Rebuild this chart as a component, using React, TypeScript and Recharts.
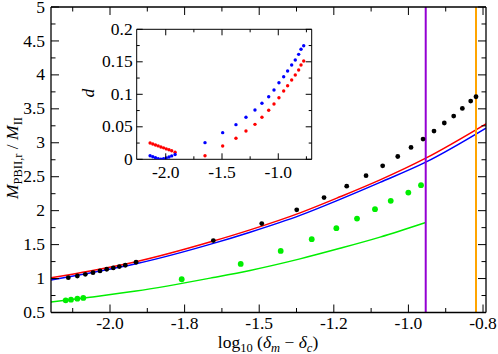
import React from 'react';
import { ComposedChart, ScatterChart, Line, Scatter, XAxis, YAxis, ReferenceLine } from 'recharts';

const FONT = 'Liberation Serif, DejaVu Serif, serif';
const FS = 17.5;

// ---------- main chart: x axis uses evenly spaced tick slots ----------
const xMajorSlots = [0, 1, 2, 3, 4, 5];
const xTickLabels = ['-2.0', '-1.8', '-1.5', '-1.2', '-1.0', '-0.8'];
const xMinorSlots = [-0.5, 0.5, 1.5, 2.5, 3.5, 4.5];
const xDomain: [number, number] = [-0.791, 5.04];

const yMajor = [0.5, 1, 1.5, 2, 2.5, 3, 3.5, 4, 4.5, 5];
const yMinor = [0.75, 1.25, 1.75, 2.25, 2.75, 3.25, 3.75, 4.25, 4.75];
const yDomain: [number, number] = [0.5, 5];

// black points
const blackX = [-0.559, -0.438, -0.331, -0.228, -0.134, -0.044, 0.044, 0.125, 0.205, 0.349, 1.385, 2.034, 2.503, 2.869, 3.173, 3.432, 3.655, 3.857, 4.035, 4.196, 4.343, 4.481, 4.607, 4.723, 4.835, 4.906];
const blackY = [1.013, 1.038, 1.063, 1.087, 1.112, 1.137, 1.156, 1.176, 1.196, 1.24, 1.559, 1.81, 2.012, 2.193, 2.361, 2.516, 2.661, 2.798, 2.931, 3.055, 3.173, 3.291, 3.394, 3.506, 3.615, 3.678];

// green points
const greenX = [-0.594, -0.523, -0.438, -0.358, 0.961, 1.752, 2.288, 2.704, 3.034, 3.311, 3.552, 3.763, 3.999, 4.169];
const greenY = [0.68, 0.689, 0.704, 0.714, 0.99, 1.215, 1.407, 1.58, 1.742, 1.883, 2.022, 2.145, 2.267, 2.376];

// curves
const curveX = [-0.791, -0.268, 0.349, 1.385, 1.877, 2.547, 3.083, 3.62, 4.232, 5.04];
const redCurveY = [1.013, 1.112, 1.248, 1.552, 1.717, 1.968, 2.204, 2.454, 2.774, 3.28];
const blueCurveY = [0.979, 1.083, 1.218, 1.518, 1.683, 1.931, 2.167, 2.417, 2.715, 3.217];
const greenCurveX = [-0.791, -0.268, 0.349, 1.385, 1.877, 2.547, 3.083, 3.62, 4.232];
const greenCurveY = [0.655, 0.725, 0.815, 1.015, 1.12, 1.29, 1.445, 1.61, 1.825];

const purpleLineX = 4.232;
const orangeLineX = 4.906;

// ---------- inset ----------
const insetXDomain: [number, number] = [-2.258, -0.703];
const insetYDomain: [number, number] = [0, 0.2];
const insetXMajor = [-2, -1.5, -1];
const insetXMinor = [-1.75, -1.25, -0.75];
const insetYMajor = [0, 0.05, 0.1, 0.15, 0.2];
const insetYMinor = [0.025, 0.075, 0.125, 0.175];

const insetX = [-2.139, -2.115, -2.091, -2.067, -2.043, -2.019, -1.995, -1.971, -1.947, -1.917,
  -1.651, -1.494, -1.376, -1.287, -1.207, -1.145, -1.085, -1.038, -0.994, -0.952, -0.917, -0.881, -0.849, -0.819, -0.798, -0.774];
const insetRedY = [0.025, 0.0236, 0.0221, 0.0206, 0.019, 0.0176, 0.016, 0.0146, 0.0131, 0.011,
  0.0055, 0.0205, 0.0323, 0.0435, 0.0538, 0.0646, 0.0754, 0.0851, 0.0948, 0.1051, 0.1132, 0.122, 0.1297, 0.1374, 0.145, 0.1512];
const insetBlueY = [0.0055, 0.004, 0.0025, 0.001, 0.0003, 0.0008, 0.002, 0.0035, 0.0052, 0.0075,
  0.0256, 0.041, 0.0533, 0.0646, 0.0758, 0.0862, 0.0963, 0.1066, 0.1178, 0.127, 0.1358, 0.145, 0.1528, 0.1615, 0.1692, 0.1748];

const zip = (xs: number[], ys: number[]) => xs.map((x, i) => ({ x, y: ys[i] }));

const blackData = zip(blackX, blackY);
const greenData = zip(greenX, greenY);
const redCurve = zip(curveX, redCurveY);
const blueCurve = zip(curveX, blueCurveY);
const greenCurve = zip(greenCurveX, greenCurveY);
const insetRed = zip(insetX, insetRedY);
const insetBlue = zip(insetX, insetBlueY);

const isIn = (arr: number[], v: number) => arr.some((a) => Math.abs(a - v) < 1e-9);

const T = (p: any) => <text fontFamily={FONT} fontSize={FS} fill="#000" style={{ fontFamily: FONT }} {...p} />;

// ---- tick factories ----
function makeBottomTick(majors: number[], label: (v: number) => string, majLen: number, minLen: number, dy: number) {
  return (props: any) => {
    const { x, y, payload } = props;
    const v = payload.value;
    const major = isIn(majors, v);
    return (
      <g>
        <line x1={x} x2={x} y1={y} y2={y - (major ? majLen : minLen)} stroke="#000" strokeWidth={1} />
        {major && <T x={x} y={y + dy} textAnchor="middle">{label(v)}</T>}
      </g>
    );
  };
}
function makeTopTick(majors: number[], majLen: number, minLen: number) {
  return (props: any) => {
    const { x, y, payload } = props;
    const major = isIn(majors, payload.value);
    return <line x1={x} x2={x} y1={y} y2={y + (major ? majLen : minLen)} stroke="#000" strokeWidth={1} />;
  };
}
function makeLeftTick(majors: number[], label: (v: number) => string, majLen: number, minLen: number, dx: number) {
  return (props: any) => {
    const { x, y, payload } = props;
    const v = payload.value;
    const major = isIn(majors, v);
    return (
      <g>
        <line x1={x} x2={x + (major ? majLen : minLen)} y1={y} y2={y} stroke="#000" strokeWidth={1} />
        {major && <T x={x - dx} y={y + 5.6} textAnchor="end">{label(v)}</T>}
      </g>
    );
  };
}
function makeRightTick(majors: number[], majLen: number, minLen: number) {
  return (props: any) => {
    const { x, y, payload } = props;
    const major = isIn(majors, payload.value);
    return <line x1={x} x2={x - (major ? majLen : minLen)} y1={y} y2={y} stroke="#000" strokeWidth={1} />;
  };
}

const mainXTicks = [...xMajorSlots, ...xMinorSlots].sort((a, b) => a - b);
const mainYTicks = [...yMajor, ...yMinor].sort((a, b) => a - b);
const insetXTicks = [...insetXMajor, ...insetXMinor].sort((a, b) => a - b);
const insetYTicks = [...insetYMajor, ...insetYMinor].sort((a, b) => a - b);

const mainXLabel = (v: number) => xTickLabels[xMajorSlots.findIndex((s) => Math.abs(s - v) < 1e-9)];
const mainYLabel = (v: number) => String(v);
const insetXLabel = (v: number) => v.toFixed(1);
const insetYLabel = (v: number) => String(v);

const axisLine = { stroke: '#000', strokeWidth: 1.3 };
const insetAxisLine = { stroke: '#000', strokeWidth: 1 };

const dot = (r: number, fill: string) => (p: any) => <circle cx={p.cx} cy={p.cy} r={r} fill={fill} />;

export default function App() {
  return (
    <div style={{ position: 'absolute', left: 0, top: 0, width: 498, height: 354, background: '#fff', fontFamily: FONT }}>
      <div style={{ position: 'absolute', left: 0, top: 0 }}>
        <ComposedChart width={498} height={354} margin={{ top: 6, right: 11, bottom: 40.5, left: 50 }}>
          <XAxis xAxisId={0} type="number" dataKey="x" domain={xDomain} allowDataOverflow ticks={mainXTicks} interval={0}
            height={1} tickSize={0} tickMargin={0} tickLine={false} axisLine={axisLine}
            tick={makeBottomTick(xMajorSlots, mainXLabel, 8, 4.5, 16)} />
          <XAxis xAxisId="top" orientation="top" type="number" dataKey="x" domain={xDomain} allowDataOverflow ticks={mainXTicks} interval={0}
            height={1} tickSize={0} tickMargin={0} tickLine={false} axisLine={axisLine}
            tick={makeTopTick(xMajorSlots, 8, 4.5)} />
          <YAxis yAxisId={0} type="number" dataKey="y" domain={yDomain} allowDataOverflow ticks={mainYTicks} interval={0}
            width={1} tickSize={0} tickMargin={0} tickLine={false} axisLine={axisLine}
            tick={makeLeftTick(yMajor, mainYLabel, 8, 4.5, 6)} />
          <YAxis yAxisId="right" orientation="right" type="number" dataKey="y" domain={yDomain} allowDataOverflow ticks={mainYTicks} interval={0}
            width={1} tickSize={0} tickMargin={0} tickLine={false} axisLine={axisLine}
            tick={makeRightTick(yMajor, 8, 4.5)} />
          <Line data={greenCurve} dataKey="y" type="monotone" stroke="#00ee00" strokeWidth={1.5} dot={false} isAnimationActive={false} />
          <Line data={blueCurve} dataKey="y" type="monotone" stroke="#0000ff" strokeWidth={1.5} dot={false} isAnimationActive={false} />
          <Line data={redCurve} dataKey="y" type="monotone" stroke="#ff0000" strokeWidth={1.5} dot={false} isAnimationActive={false} />
          <ReferenceLine x={purpleLineX} stroke="#9400d3" strokeWidth={2} />
          <ReferenceLine x={orangeLineX} stroke="#ffa500" strokeWidth={2} />
          <Scatter data={greenData} dataKey="y" shape={dot(2.9, '#00ee00')} isAnimationActive={false} />
          <Scatter data={blackData} dataKey="y" shape={dot(2.4, '#000')} isAnimationActive={false} />
        </ComposedChart>
      </div>
      <div style={{ position: 'absolute', left: 0, top: 0 }}>
        <ScatterChart width={498} height={354} margin={{ top: 28.3, right: 185.3, bottom: 193.7, left: 135.7 }}>
          <XAxis xAxisId={0} type="number" dataKey="x" domain={insetXDomain} allowDataOverflow ticks={insetXTicks} interval={0}
            height={1} tickSize={0} tickMargin={0} tickLine={false} axisLine={insetAxisLine}
            tick={makeBottomTick(insetXMajor, insetXLabel, 6, 3, 19)} />
          <XAxis xAxisId="top" orientation="top" type="number" dataKey="x" domain={insetXDomain} allowDataOverflow ticks={insetXTicks} interval={0}
            height={1} tickSize={0} tickMargin={0} tickLine={false} axisLine={insetAxisLine}
            tick={makeTopTick(insetXMajor, 6, 3)} />
          <YAxis yAxisId={0} type="number" dataKey="y" domain={insetYDomain} allowDataOverflow ticks={insetYTicks} interval={0}
            width={1} tickSize={0} tickMargin={0} tickLine={false} axisLine={insetAxisLine}
            tick={makeLeftTick(insetYMajor, insetYLabel, 6, 3, 4)} />
          <YAxis yAxisId="right" orientation="right" type="number" dataKey="y" domain={insetYDomain} allowDataOverflow ticks={insetYTicks} interval={0}
            width={1} tickSize={0} tickMargin={0} tickLine={false} axisLine={insetAxisLine}
            tick={makeRightTick(insetYMajor, 6, 3)} />
          <Scatter data={insetRed} dataKey="y" shape={dot(1.7, '#ff0000')} isAnimationActive={false} />
          <Scatter data={insetBlue} dataKey="y" shape={dot(1.7, '#0000ff')} isAnimationActive={false} />
        </ScatterChart>
      </div>
      <svg width={498} height={354} style={{ position: 'absolute', left: 0, top: 0, pointerEvents: 'none' }}>
        <T transform="translate(18,158) rotate(-90)" textAnchor="middle">
          <tspan fontStyle="italic">M</tspan>
          <tspan fontSize={12.5} dy={4}>PBII,r</tspan>
          <tspan dy={-4}>{' / '}</tspan>
          <tspan fontStyle="italic">M</tspan>
          <tspan fontSize={12.5} dy={4}>II</tspan>
        </T>
        <T x={268} y={348} textAnchor="middle">
          <tspan>log</tspan>
          <tspan fontSize={12.5} dy={4}>10</tspan>
          <tspan dy={-4}>{' ('}</tspan>
          <tspan fontStyle="italic">δ</tspan>
          <tspan fontSize={12.5} fontStyle="italic" dy={4}>m</tspan>
          <tspan dy={-4}>{' − '}</tspan>
          <tspan fontStyle="italic">δ</tspan>
          <tspan fontSize={12.5} fontStyle="italic" dy={4}>c</tspan>
          <tspan dy={-4}>)</tspan>
        </T>
        <T transform="translate(94,93) rotate(-90)" textAnchor="middle" fontStyle="italic">d</T>
      </svg>
    </div>
  );
}
